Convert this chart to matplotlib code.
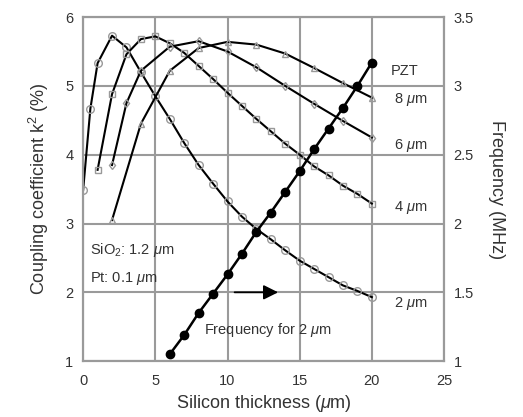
import matplotlib
matplotlib.use('Agg')
import matplotlib.pyplot as plt

plt.rcParams['font.family'] = ['Liberation Sans', 'DejaVu Sans']
plt.rcParams['mathtext.fontset'] = 'custom'
plt.rcParams['mathtext.rm'] = 'Liberation Sans'
plt.rcParams['mathtext.it'] = 'Liberation Sans:italic'

# coupling coefficient k^2 (%) for each PZT thickness
x_2um = [0, 0.5, 1, 2, 3, 4, 5, 6, 7, 8, 9, 10, 11, 12, 13, 14, 15, 16, 17, 18, 19, 20]
k_2um = [3.49, 4.67, 5.33, 5.73, 5.56, 5.2, 4.85, 4.52, 4.17, 3.85, 3.58, 3.32, 3.1, 2.92,
         2.77, 2.61, 2.46, 2.34, 2.22, 2.1, 2.02, 1.93]

x_4um = [1, 2, 3, 4, 5, 6, 7, 8, 9, 10, 11, 12, 13, 14, 15, 16, 17, 18, 19, 20]
k_4um = [3.78, 4.88, 5.46, 5.68, 5.72, 5.62, 5.48, 5.29, 5.1, 4.9, 4.71, 4.52, 4.34, 4.16,
         4.0, 3.83, 3.7, 3.55, 3.43, 3.29]

x_6um = [2, 3, 4, 6, 8, 10, 12, 14, 16, 18, 20]
k_6um = [3.85, 4.75, 5.22, 5.57, 5.65, 5.5, 5.27, 5.0, 4.74, 4.49, 4.25]

x_8um = [2, 4, 6, 8, 10, 12, 14, 16, 18, 20]
k_8um = [3.05, 4.45, 5.22, 5.55, 5.64, 5.6, 5.47, 5.26, 5.04, 4.83]

# resonance frequency (MHz) for 2 um PZT
x_freq = [6, 7, 8, 9, 10, 11, 12, 13, 14, 15, 16, 17, 18, 19, 20]
freq = [1.05, 1.19, 1.35, 1.49, 1.63, 1.78, 1.94, 2.08, 2.23, 2.38, 2.54, 2.69, 2.84, 3.0, 3.17]

pzt_labels = ['2 $\\mu$m', '4 $\\mu$m', '6 $\\mu$m', '8 $\\mu$m']
label_y = [1.84, 3.23, 4.14, 4.80]

grid_c = '#9a9a9a'
mk_c = '#999999'
txt_c = '#333333'

fig = plt.figure(figsize=(5.23, 4.17), dpi=100)
ax = fig.add_axes([0.159, 0.134, 0.69, 0.825])

series = [(x_2um, k_2um, 'o', 5.5), (x_4um, k_4um, 's', 5), (x_6um, k_6um, 'd', 4.5), (x_8um, k_8um, '^', 4.5)]
for xs, ys, m, ms in series:
    ax.plot(xs, ys, color='black', lw=1.5, marker=m, ms=ms, mfc='none', mec=mk_c, mew=1, zorder=3)

ax.set_xlim(0, 25)
ax.set_ylim(1, 6)
ax.set_xticks(range(0, 26, 5))
ax.set_yticks(range(1, 7))
ax.grid(True, color=grid_c, lw=1.5)
for s in ax.spines.values():
    s.set_color(grid_c)
    s.set_linewidth(1.5)
ax.tick_params(length=0, labelsize=10.5, labelcolor=txt_c)
ax.tick_params(axis='y', pad=7)
ax.tick_params(axis='x', pad=9)
ax.set_xlabel('Silicon thickness ($\\mu$m)', fontsize=13, color=txt_c, labelpad=4)
ax.set_ylabel('Coupling coefficient k$^2$ (%)', fontsize=13, color=txt_c, labelpad=10)

ax2 = ax.twinx()
ax2.plot(x_freq, freq, color='black', lw=1.8, marker='o', ms=6, mfc='black', mec='black', zorder=4)
ax2.set_ylim(1, 3.5)
ax2.set_yticks([1, 1.5, 2, 2.5, 3, 3.5])
ax2.set_yticklabels(['1', '1.5', '2', '2.5', '3', '3.5'])
ax2.tick_params(length=0, labelsize=10.5, labelcolor=txt_c, pad=7)
for s in ax2.spines.values():
    s.set_color(grid_c)
    s.set_linewidth(1.5)
ax2.set_ylabel('Frequency (MHz)', fontsize=13, color=txt_c, rotation=270, labelpad=22)

for lab, yy in zip(pzt_labels, label_y):
    ax.text(21.5, yy, lab, fontsize=10.5, color=txt_c, va='center', ha='left')
ax.text(22.3, 5.22, 'PZT', fontsize=10.5, color=txt_c, va='center', ha='center')

ax.text(0.5, 2.62, 'SiO$_2$: 1.2 $\\mu$m', fontsize=10.5, color=txt_c, va='center')
ax.text(0.5, 2.2, 'Pt: 0.1 $\\mu$m', fontsize=10.5, color=txt_c, va='center')
ax.text(8.4, 1.45, 'Frequency for 2 $\\mu$m', fontsize=10.5, color=txt_c, va='center')
ax.annotate('', xy=(13.7, 2.0), xytext=(10.3, 2.0),
            arrowprops=dict(arrowstyle='-|>', color='black', lw=1.3, mutation_scale=22))

fig.savefig('out.png', dpi=100)
